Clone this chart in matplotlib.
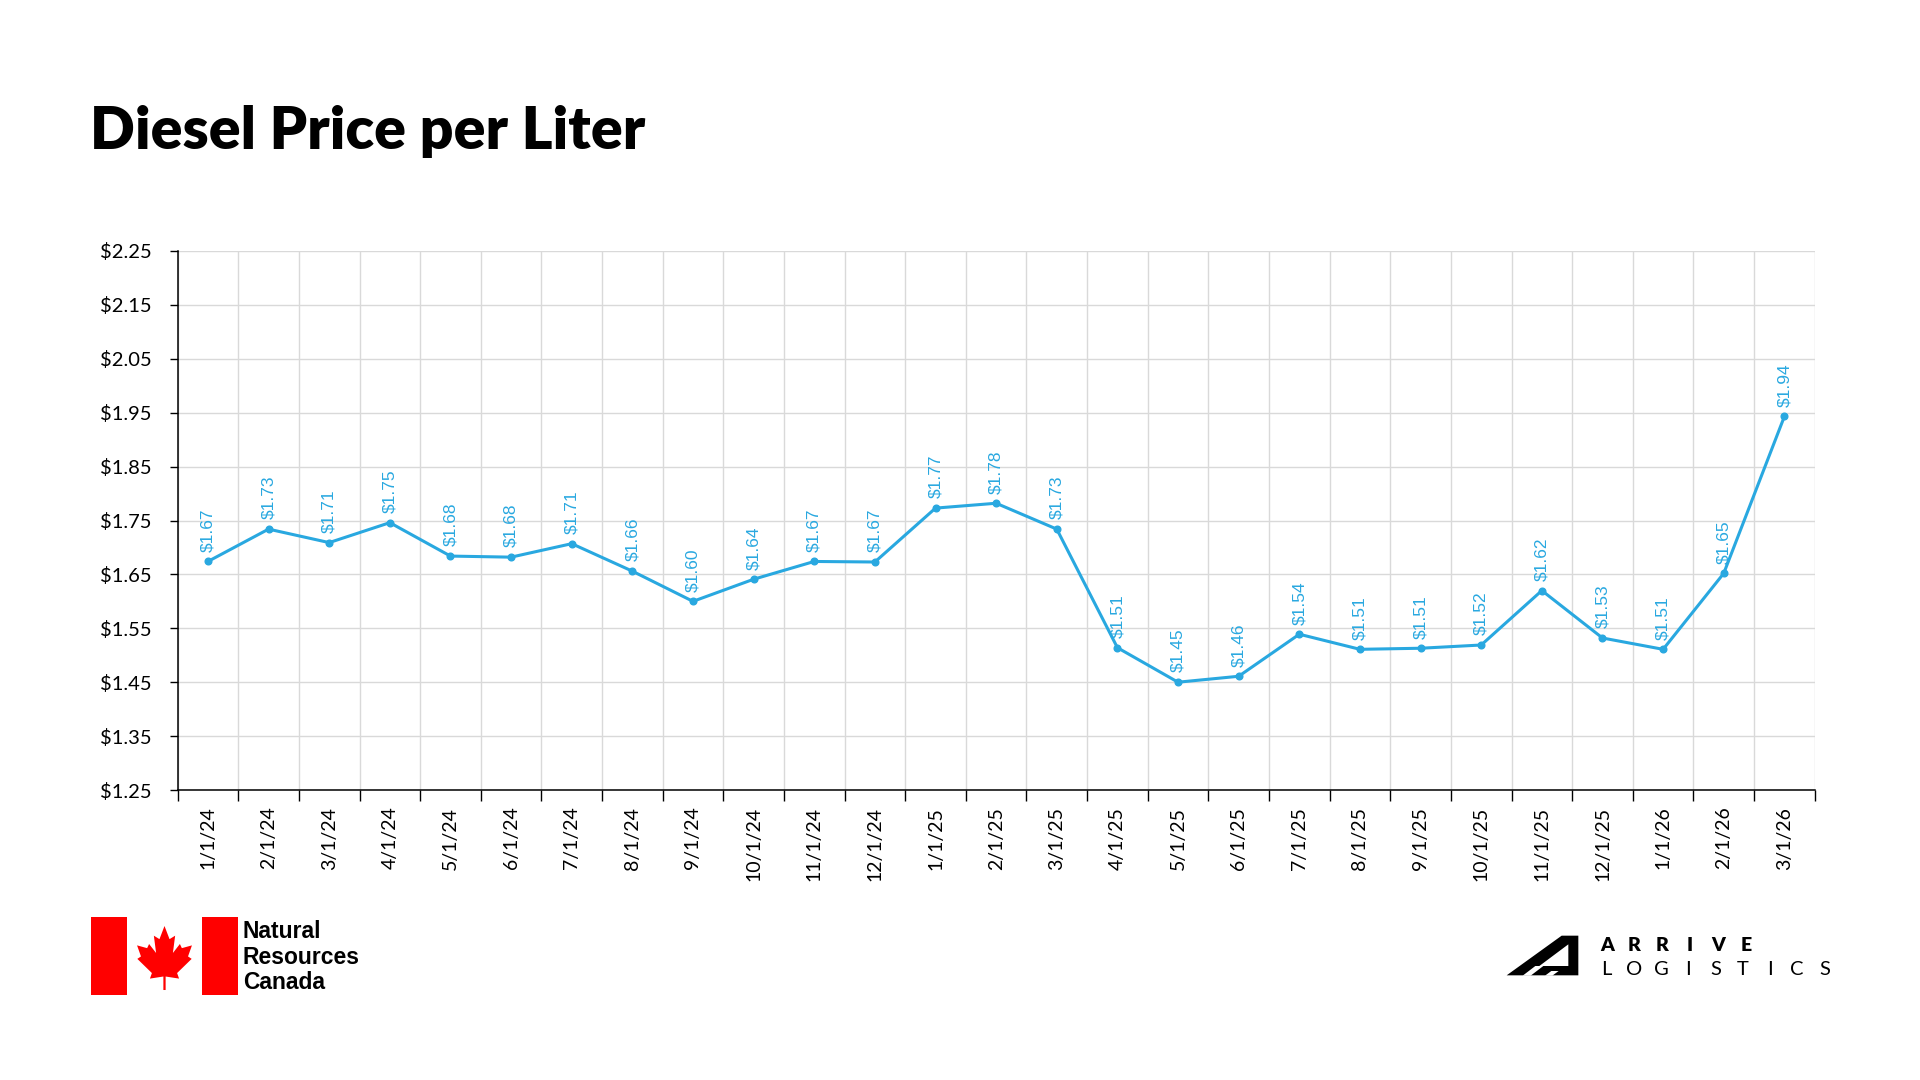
import numpy as np
import matplotlib.pyplot as plt
from matplotlib.patches import Polygon, Rectangle

plt.rcParams['font.family'] = ['Lato', 'DejaVu Sans']

# data
months = ['1/1/24', '2/1/24', '3/1/24', '4/1/24', '5/1/24', '6/1/24', '7/1/24',
          '8/1/24', '9/1/24', '10/1/24', '11/1/24', '12/1/24', '1/1/25', '2/1/25',
          '3/1/25', '4/1/25', '5/1/25', '6/1/25', '7/1/25', '8/1/25', '9/1/25',
          '10/1/25', '11/1/25', '12/1/25', '1/1/26', '2/1/26', '3/1/26']
prices = [1.674, 1.734, 1.709, 1.746, 1.684, 1.682, 1.707, 1.656, 1.600, 1.641,
          1.674, 1.673, 1.773, 1.782, 1.734, 1.514, 1.450, 1.461, 1.539, 1.511,
          1.513, 1.519, 1.620, 1.532, 1.511, 1.652, 1.943]
price_labels = [f'${v:.2f}' for v in prices]
y_ticks = np.round(np.arange(1.25, 2.26, 0.10), 2)

BLUE = '#29a8e0'
GRID = '#d9d9d9'
W, H = 1920, 1080

fig = plt.figure(figsize=(19.2, 10.8), dpi=100)
fig.patch.set_facecolor('white')

# title
fig.text(90 / W, 1 - 149 / H, 'Diesel Price per Liter', fontsize=42.5,
         fontweight='heavy', color='black', ha='left', va='baseline')

# main chart
ax = fig.add_axes([177.6 / W, 1 - 790 / H, (1814.7 - 177.6) / W, (790 - 251) / H])
x = np.arange(len(months))
ax.plot(x, prices, color=BLUE, lw=2.2, marker='o', ms=4.8, zorder=3, clip_on=False)
for xi, v, lab in zip(x, prices, price_labels):
    ax.annotate(lab, (xi, v), xytext=(0, 7), textcoords='offset points',
                rotation=90, ha='center', va='bottom', color=BLUE, fontsize=12.5,
                family=['Liberation Sans', 'DejaVu Sans'])

ax.set_xlim(-0.5, len(months) - 0.5)
ax.set_ylim(1.25, 2.25)
ax.set_yticks(y_ticks)
ax.yaxis.set_major_formatter(lambda v, p: f'${v:.2f}')
ax.set_xticks(x)
ax.set_xticklabels(months, rotation=90)
ax.set_xticks(np.arange(-0.5, len(months)), minor=True)
ax.tick_params(axis='x', which='major', length=0, pad=12, labelsize=14)
ax.tick_params(axis='x', which='minor', length=8, width=1, color='black')
ax.tick_params(axis='y', length=5.5, width=1, pad=13, labelsize=14.5)
ax.grid(axis='y', which='major', color=GRID, lw=1)
ax.grid(axis='x', which='minor', color=GRID, lw=1)
ax.set_axisbelow(True)
for s in ['top', 'right']:
    ax.spines[s].set_visible(False)
for s in ['left', 'bottom']:
    ax.spines[s].set_linewidth(1.1)

# logos (pixel coordinates)
lg = fig.add_axes([0, 0, 1, 1], zorder=-1)
lg.set_xlim(0, W)
lg.set_ylim(H, 0)
lg.axis('off')

RED = '#ff0000'
lg.add_patch(Rectangle((90.7, 917), 36.6, 78, color=RED, lw=0))
lg.add_patch(Rectangle((201.7, 917), 36.6, 78, color=RED, lw=0))
half = np.array([(0.0, 1.0), (0.18, 0.62), (0.38, 0.72), (0.30, 0.22), (0.55, 0.48),
                 (0.62, 0.36), (0.98, 0.44), (0.84, 0.12), (0.97, 0.05), (0.45, -0.36),
                 (0.52, -0.52), (0.04, -0.46), (0.04, -0.85)])
left = half[::-1].copy()
left[:, 0] *= -1
leaf = np.vstack([half, left])
lx = 164.5 + leaf[:, 0] * 28
ly = 926 + (1.0 - leaf[:, 1]) * 34.6
lg.add_patch(Polygon(np.column_stack([lx, ly]), closed=True, color=RED, lw=0))
for i, word in enumerate(['Natural', 'Resources', 'Canada']):
    lg.text(243, 938 + i * 25.7, word, fontsize=16.5, fontweight='bold',
            family=['Liberation Sans', 'DejaVu Sans'], ha='left', va='baseline')

# Arrive Logistics mark
def zp(px, py):
    return (px / 3 + 1400, py / 3 + 850)

lg.add_patch(Polygon([zp(320, 376), zp(485, 257), zp(535, 257), zp(535, 376)],
                     closed=True, color='black', lw=0))
lg.add_patch(Polygon([zp(418, 348), zp(505, 283), zp(505, 348)],
                     closed=True, color='white', lw=0))
lg.add_patch(Polygon([zp(368, 377), zp(392, 377), zp(430, 348), zp(406, 348)],
                     closed=True, color='white', lw=0))
lg.add_patch(Polygon([zp(435, 377), zp(457, 377), zp(476, 363), zp(454, 363)],
                     closed=True, color='white', lw=0))
for i, ch in enumerate('ARRIVE'):
    lg.text(1606.7 + i * 27.8, 950.7, ch, fontsize=14, fontweight='heavy',
            ha='center', va='baseline')
for i, ch in enumerate('LOGISTICS'):
    lg.text(1606.7 + i * 27.2, 975, ch, fontsize=14.5, fontweight='normal',
            ha='center', va='baseline')

fig.savefig('out.png', dpi=100, facecolor='white')
